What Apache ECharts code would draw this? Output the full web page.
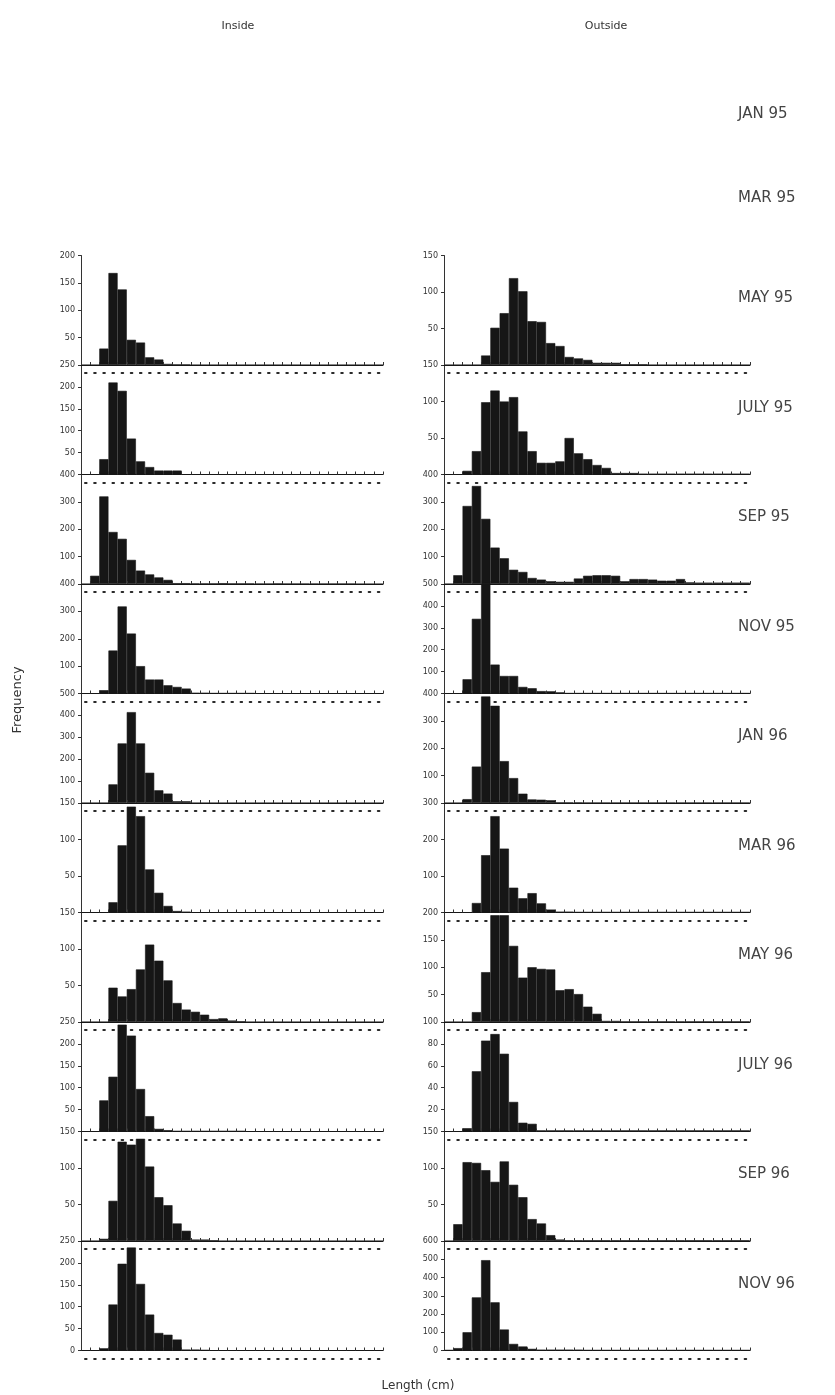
<!DOCTYPE html>
<html>
<head>
<meta charset="utf-8">
<script src="https://cdn.jsdelivr.net/npm/echarts@6/dist/echarts.min.js"></script>
<style>
  html, body { margin: 0; padding: 0; background: #ffffff; }
  #chart { width: 835px; height: 1395px; }
</style>
</head>
<body>
<div id="chart"></div>
<script>
// Length classes (33 bins along each panel's baseline)
const lengthBins = ['1','2','3','4','5','6','7','8','9','10','11','12','13','14','15','16','17',
                    '18','19','20','21','22','23','24','25','26','27','28','29','30','31','32','33'];

// Sampling months; the first two have no histograms
const emptyMonths = ['JAN 95', 'MAR 95'];
const months = ['MAY 95', 'JULY 95', 'SEP 95', 'NOV 95', 'JAN 96', 'MAR 96', 'MAY 96', 'JULY 96', 'SEP 96', 'NOV 96'];

// Inside: frequency per length class
const inMay95 = [0,0,30,168,138,46,41,14,10,2,1,1,0,0,0,0,0,0,0,0,0,0,0,0,0,0,0,0,0,0,0,0,0];
const inJul95 = [0,0,35,210,191,82,30,17,9,9,9,0,0,0,0,0,0,0,0,0,0,0,0,0,0,0,0,0,0,0,0,0,0];
const inSep95 = [0,30,320,190,165,88,49,35,24,15,3,3,2,2,2,3,2,2,2,1,1,2,1,1,1,1,1,1,1,1,0,0,0];
const inNov95 = [0,0,12,157,318,219,100,51,51,30,24,18,2,2,1,1,1,1,1,0,0,0,0,0,0,0,0,0,0,0,0,0,0];
const inJan96 = [0,0,0,85,272,415,272,138,58,43,8,8,0,0,0,0,0,0,0,0,0,0,0,0,0,0,0,0,0,0,0,0,0];
const inMar96 = [0,0,0,14,92,145,132,59,27,9,2,1,0,0,0,0,0,0,0,0,0,0,0,0,0,0,0,0,0,0,0,0,0];
const inMay96 = [0,0,0,47,35,45,72,106,84,57,26,17,14,10,4,5,2,1,0,0,0,0,0,0,0,0,0,0,0,0,0,0,0];
const inJul96 = [0,0,71,125,244,219,97,35,6,3,1,1,1,1,1,1,1,1,0,0,0,0,0,0,0,0,0,0,0,0,0,0,0];
const inSep96 = [0,0,3,55,136,132,140,102,60,49,24,14,2,2,1,0,0,0,0,0,0,0,0,0,0,0,0,0,0,0,0,0,0];
const inNov96 = [0,0,5,105,198,235,152,82,40,36,25,2,2,1,0,0,0,0,0,0,0,0,0,0,0,0,0,0,0,0,0,0,0];

// Outside: frequency per length class
const outMay95 = [0,0,0,0,13,51,71,119,101,60,59,30,26,11,9,7,3,3,3,1,1,1,0,0,0,0,0,0,0,0,0,0,0];
const outJul95 = [0,0,5,32,99,115,100,106,59,32,16,16,18,50,29,21,13,9,2,2,2,1,1,1,1,1,1,1,1,1,1,1,1];
const outSep95 = [0,32,285,358,238,133,94,52,44,22,16,10,8,8,20,30,32,32,30,10,18,18,16,12,12,18,6,5,5,5,5,5,5];
const outNov95 = [0,0,65,341,505,132,80,80,30,24,11,10,5,1,1,1,1,1,1,1,1,1,1,1,1,1,1,1,1,1,1,1,1];
const outJan96 = [0,0,14,133,389,355,153,91,34,13,12,10,2,2,2,1,1,1,1,1,1,1,1,1,1,1,1,1,1,1,1,1,1];
const outMar96 = [0,0,0,26,157,264,175,68,39,53,25,8,2,2,1,1,1,1,1,1,1,1,1,1,1,1,1,1,1,1,1,1,1];
const outMay96 = [0,0,0,18,91,195,195,139,81,100,97,96,58,60,51,28,15,2,2,1,1,1,1,1,1,1,1,1,1,1,1,1,1];
const outJul96 = [0,0,3,55,83,89,71,27,8,7,1,1,1,1,1,1,1,1,1,1,1,1,1,1,1,1,1,1,1,1,1,1,1];
const outSep96 = [0,23,108,107,97,81,109,77,60,30,24,8,2,1,1,1,1,1,1,1,1,1,1,1,1,1,1,1,1,1,1,1,1];
const outNov96 = [2,13,100,291,495,264,115,36,22,9,4,4,4,4,4,2,2,2,2,2,2,2,2,2,2,2,2,2,2,2,2,2,2];

// Y-axis range and tick step of every panel
const insideMax  = [200, 250, 400, 400, 500, 150, 150, 250, 150, 250];
const insideStep = [50, 50, 100, 100, 100, 50, 50, 50, 50, 50];
const outsideMax  = [150, 150, 400, 500, 400, 300, 200, 100, 150, 600];
const outsideStep = [50, 50, 100, 100, 100, 100, 50, 20, 50, 100];

const insideSeries  = [inMay95, inJul95, inSep95, inNov95, inJan96, inMar96, inMay96, inJul96, inSep96, inNov96];
const outsideSeries = [outMay95, outJul95, outSep95, outNov95, outJan96, outMar96, outMay96, outJul96, outSep96, outNov96];

// ---- layout ----
const panelTop = 255.5;
const panelH = 109.5;
const columns = [
  { left: 81,  width: 302, dash: [1.6, 7.55], series: insideSeries,  max: insideMax,  step: insideStep },
  { left: 444, width: 306, dash: [1.6, 7.67], series: outsideSeries, max: outsideMax, step: outsideStep }
];
const ink = '#161616';
const font = 'DejaVu Sans';

const grid = [], xAxis = [], yAxis = [], series = [];
columns.forEach((col) => {
  months.forEach((m, r) => {
    const g = grid.length;
    const isLast = r === months.length - 1;
    grid.push({ left: col.left, top: panelTop + r * panelH, width: col.width, height: panelH, containLabel: false });
    // baseline with small upward ticks at each class boundary
    xAxis.push({
      gridIndex: g, type: 'category', data: lengthBins, boundaryGap: true, position: 'bottom',
      axisLine: { show: true, lineStyle: { color: ink, width: 1.2 } },
      axisTick: { show: true, inside: true, length: 3, interval: 0, lineStyle: { color: '#333', width: 1 } },
      axisLabel: { show: false }, splitLine: { show: false }, z: 3
    });
    // dotted guide line under each baseline
    xAxis.push({
      gridIndex: g, type: 'category', data: lengthBins, position: 'bottom', offset: 8,
      axisLine: { show: true, lineStyle: { color: '#2a2a2a', width: 2, type: col.dash, dashOffset: -4 } },
      axisTick: { show: false }, axisLabel: { show: false }, splitLine: { show: false }
    });
    yAxis.push({
      gridIndex: g, type: 'value', min: 0, max: col.max[r], interval: col.step[r],
      axisLine: { show: true, lineStyle: { color: '#333', width: 1 } },
      axisTick: { show: true, length: 3, lineStyle: { color: '#333' } },
      splitLine: { show: false },
      axisLabel: { fontSize: 8, color: '#333', fontFamily: font, margin: 6, showMinLabel: isLast, showMaxLabel: true }
    });
    series.push({
      type: 'bar', xAxisIndex: xAxis.length - 2, yAxisIndex: g,
      data: col.series[r], barCategoryGap: '0%', barGap: '0%', clip: false,
      itemStyle: { color: ink, borderColor: ink, borderWidth: 0.6 },
      emphasis: { disabled: true }, silent: true, animation: false
    });
  });
});

// Headings, month tags and axis names
const rowLabelY = [112, 196];
months.forEach((m, r) => rowLabelY.push(panelTop + r * panelH + 40.5));
const title = [
  { text: 'Inside',  left: 233, top: 21, textAlign: 'center', textVerticalAlign: 'middle',
    textStyle: { fontSize: 11, fontWeight: 'normal', color: '#333', fontFamily: font } },
  { text: 'Outside', left: 601, top: 21, textAlign: 'center', textVerticalAlign: 'middle',
    textStyle: { fontSize: 11, fontWeight: 'normal', color: '#333', fontFamily: font } },
  { text: 'Length (cm)', left: 413, top: 1381, textAlign: 'center', textVerticalAlign: 'middle',
    textStyle: { fontSize: 12, fontWeight: 'normal', color: '#333', fontFamily: font } }
];
emptyMonths.concat(months).forEach((m, i) => {
  title.push({
    text: m, left: 733, top: rowLabelY[i] - 10,
    textStyle: { fontSize: 15, fontWeight: 'normal', color: '#444', fontFamily: font }
  });
});

const chart = echarts.init(document.getElementById('chart'), null, { renderer: 'canvas' });
chart.setOption({
  backgroundColor: '#ffffff',
  animation: false,
  title: title,
  graphic: [{
    type: 'text', x: 18, y: 700, rotation: Math.PI / 2,
    style: { text: 'Frequency', fontSize: 13, fill: '#333', fontFamily: font, align: 'center', verticalAlign: 'middle' }
  }],
  grid: grid,
  xAxis: xAxis,
  yAxis: yAxis,
  series: series
});
</script>
</body>
</html>
